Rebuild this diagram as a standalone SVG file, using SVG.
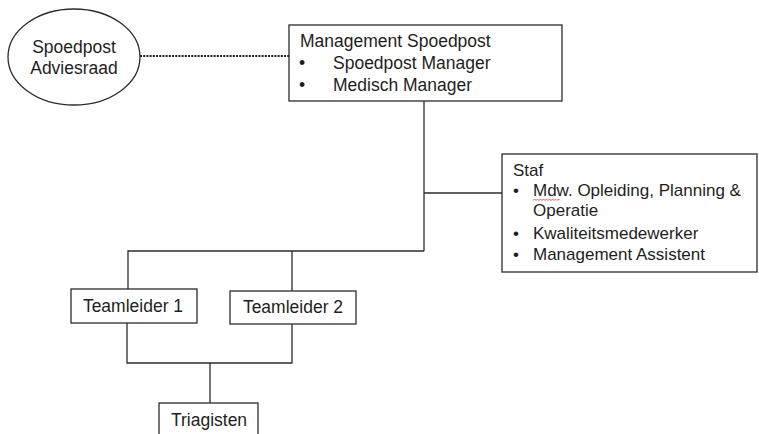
<svg xmlns="http://www.w3.org/2000/svg" width="759" height="434" viewBox="0 0 759 434">
<style>
.box{fill:#fff;stroke:#2b2b2b;stroke-width:1.3}
.ln{fill:none;stroke:#2b2b2b;stroke-width:1.3}
text{font-family:"Liberation Sans",Arial,sans-serif;fill:#1e1e1e}
.t17{font-size:17.5px}
.t16{font-size:17px}
</style>
<rect width="759" height="434" fill="#fff"/>
<g id="connectors">
<line x1="140" y1="56" x2="289" y2="56" stroke="#1e1e1e" stroke-width="2.2" stroke-dasharray="2 1.2"/>
<polyline class="ln" points="424,101 424,251"/>
<line class="ln" x1="424" y1="193" x2="502" y2="193"/>
<polyline class="ln" points="128,289 128,251 424,251"/>
<line class="ln" x1="292" y1="251" x2="292" y2="291"/>
<polyline class="ln" points="127,323 127,363 292,363 292,324"/>
<line class="ln" x1="210" y1="363" x2="210" y2="403"/>
</g>
<g id="adviesraad">
<ellipse class="box" cx="74" cy="57" rx="66" ry="48"/>
<text class="t17" x="74" y="53" text-anchor="middle">Spoedpost</text>
<text class="t17" x="74" y="74" text-anchor="middle">Adviesraad</text>
</g>
<g id="management">
<rect class="box" x="289" y="25" width="273" height="76"/>
<text class="t17" x="300" y="47">Management Spoedpost</text>
<text class="t17" x="299" y="69">•</text>
<text class="t17" x="333" y="69">Spoedpost Manager</text>
<text class="t17" x="299" y="91">•</text>
<text class="t17" x="333" y="91">Medisch Manager</text>
</g>
<g id="staf">
<rect class="box" x="502" y="154" width="255" height="118"/>
<text class="t16" x="513" y="176">Staf</text>
<text class="t16" x="513" y="196">•</text>
<text class="t16" x="533" y="196">Mdw. Opleiding, Planning &amp;</text>
<path d="M533,200.5 l1.5,-1.5 l1.5,1.5 l1.5,-1.5 l1.5,1.5 l1.5,-1.5 l1.5,1.5 l1.5,-1.5 l1.5,1.5 l1.5,-1.5 l1.5,1.5 l1.5,-1.5 l1.5,1.5 l1.5,-1.5 l1.5,1.5 l1.5,-1.5 l1.5,1.5 l1.5,-1.5 l1.5,1.5" fill="none" stroke="#e03030" stroke-width="0.8"/>
<text class="t16" x="533" y="216">Operatie</text>
<text class="t16" x="513" y="239">•</text>
<text class="t16" x="533" y="239">Kwaliteitsmedewerker</text>
<text class="t16" x="513" y="260">•</text>
<text class="t16" x="533" y="260">Management Assistent</text>
</g>
<g id="teamleider1">
<rect class="box" x="71" y="289" width="126" height="34"/>
<text class="t17" x="133" y="312" text-anchor="middle">Teamleider 1</text>
</g>
<g id="teamleider2">
<rect class="box" x="230" y="291" width="126" height="33"/>
<text class="t17" x="293" y="313" text-anchor="middle">Teamleider 2</text>
</g>
<g id="triagisten">
<rect class="box" x="159" y="403" width="99" height="40"/>
<text class="t17" x="209" y="426" text-anchor="middle">Triagisten</text>
</g>
</svg>
